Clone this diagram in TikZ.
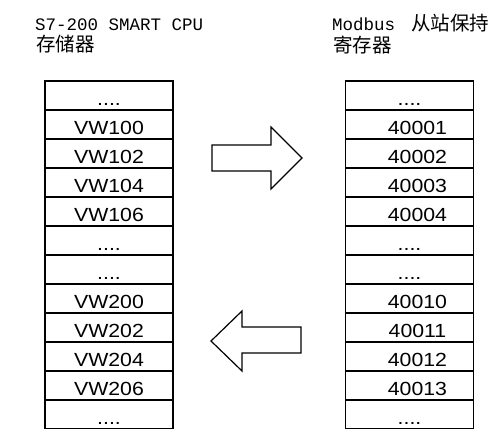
\documentclass[tikz,border=0pt]{standalone}
\usepackage{fontspec}
\newfontfamily\cellfont[FakeStretch=1.12]{Liberation Sans}
\newfontfamily\monofont{Liberation Mono}
\newfontfamily\cjkfont{Noto Sans CJK SC}
\usetikzlibrary{positioning}

\newcommand{\rnum}[1]{\hspace{16pt}#1}
\newcommand{\skipl}{....\hspace{22pt}}
\newcommand{\skipr}{....\hspace{25pt}}

\begin{document}
\begin{tikzpicture}[x=1pt, y=-1pt,
    cell/.style={draw, line width=1.2pt, minimum width=128pt, minimum height=29pt, inner sep=0pt, outer sep=0pt,
                 text height=19pt, text depth=0pt, font=\cellfont\fontsize{19}{19}\selectfont},
    title/.style={anchor=base west, inner sep=0pt},
    blockarrow/.style={draw, line width=1.2pt, line join=miter}]
        \useasboundingbox (0,0) rectangle (496,429);
        \clip (-1,-1) rectangle (497,428);
        % titles
        \node[title, font=\monofont\fontsize{17.5}{17.5}\selectfont] (ltop) at (35,30) {S7-200 SMART CPU};
        \node[title, font=\cjkfont\fontsize{19.5}{19.5}\selectfont] (lsub) at (36,51) {存储器};
        \node[title, font=\monofont\fontsize{17.5}{17.5}\selectfont] (rtop) at (332,30) {Modbus\hspace{16pt}{\cjkfont\fontsize{19.5}{19.5}\selectfont 从站保持}};
        \node[title, font=\cjkfont\fontsize{19.5}{19.5}\selectfont] (rsub) at (333,52) {寄存器};
        % CPU memory
        \node[cell] (l1) at (109,95.5) {\skipl};
        \node[cell, below=0pt of l1] (l2) {VW100};
        \node[cell, below=0pt of l2] (l3) {VW102};
        \node[cell, below=0pt of l3] (l4) {VW104};
        \node[cell, below=0pt of l4] (l5) {VW106};
        \node[cell, below=0pt of l5] (l6) {\skipl};
        \node[cell, below=0pt of l6] (l7) {\skipl};
        \node[cell, below=0pt of l7] (l8) {VW200};
        \node[cell, below=0pt of l8] (l9) {VW202};
        \node[cell, below=0pt of l9] (l10) {VW204};
        \node[cell, below=0pt of l10] (l11) {VW206};
        \node[cell, below=0pt of l11] (l12) {\skipl};
        % Modbus holding registers
        \node[cell] (r1) at (409.5,95.5) {\skipr};
        \node[cell, below=0pt of r1] (r2) {\rnum{40001}};
        \node[cell, below=0pt of r2] (r3) {\rnum{40002}};
        \node[cell, below=0pt of r3] (r4) {\rnum{40003}};
        \node[cell, below=0pt of r4] (r5) {\rnum{40004}};
        \node[cell, below=0pt of r5] (r6) {\skipr};
        \node[cell, below=0pt of r6] (r7) {\skipr};
        \node[cell, below=0pt of r7] (r8) {\rnum{40010}};
        \node[cell, below=0pt of r8] (r9) {\rnum{40011}};
        \node[cell, below=0pt of r9] (r10) {\rnum{40012}};
        \node[cell, below=0pt of r10] (r11) {\rnum{40013}};
        \node[cell, below=0pt of r11] (r12) {\skipr};
        % block arrows
        \draw[blockarrow] (212,145) -- (271,145) -- (271,127) -- (302,158) -- (271,189) -- (271,171) -- (212,171) -- cycle;
        \draw[blockarrow] (301,327) -- (242,327) -- (242,311) -- (211,341) -- (242,371) -- (242,353) -- (301,353) -- cycle;
    \end{tikzpicture}
\end{document}
